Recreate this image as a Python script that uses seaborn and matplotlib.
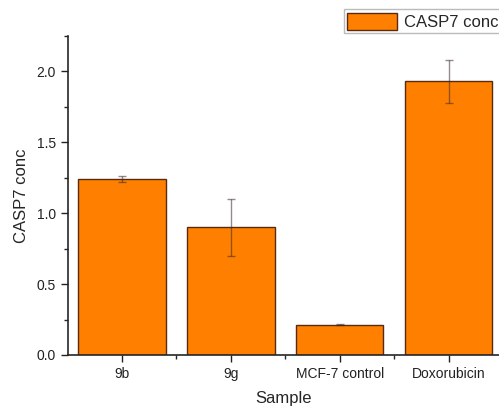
import matplotlib
matplotlib.use("Agg")
import matplotlib.pyplot as plt
from matplotlib.patches import Patch
from matplotlib.ticker import MultipleLocator, FixedLocator
import seaborn as sns
import pandas as pd
import numpy as np

samples = ["9b", "9g", "MCF-7 control", "Doxorubicin"]
conc = [1.24, 0.90, 0.215, 1.93]
err = [0.02, 0.20, 0.005, 0.15]

sns.set_style("ticks")
plt.rcParams['font.family'] = ['Liberation Sans', 'DejaVu Sans']

df = pd.DataFrame({"Sample": samples, "CASP7 conc": conc})

fig = plt.figure(figsize=(4.99, 4.07), dpi=100)
ax = fig.add_axes([67.5/499, 1-355/407, 1-67.5/499, (355-36)/407])

sns.barplot(data=df, x="Sample", y="CASP7 conc", color="#FF8000",
            edgecolor="#5a2a10", linewidth=1.0, width=0.8, saturation=1, ax=ax)
ax.errorbar(np.arange(len(samples)), conc, yerr=err, fmt="none",
            ecolor="#3a2a2a", alpha=0.55, elinewidth=1.0, capsize=3, capthick=1.0)

ax.set_xlim(-0.5, 3.46)
ax.set_ylim(0, 2.25)
ax.yaxis.set_major_locator(MultipleLocator(0.5))
ax.yaxis.set_minor_locator(MultipleLocator(0.25))
ax.xaxis.set_minor_locator(FixedLocator([0.5, 1.5, 2.5]))
ax.tick_params(axis="both", which="major", direction="out", length=5, width=1, labelsize=10, colors="#222222")
ax.tick_params(axis="both", which="minor", direction="out", length=3, width=1)
for lab in ax.get_xticklabels() + ax.get_yticklabels():
    lab.set_color("#222222")
ax.yaxis.set_major_formatter(matplotlib.ticker.FormatStrFormatter("%.1f"))

ax.spines["top"].set_visible(False)
ax.spines["right"].set_visible(False)
ax.spines["left"].set_linewidth(1.2)
ax.spines["bottom"].set_linewidth(1.2)

ax.set_xlabel("Sample", fontsize=12, labelpad=7)
ax.set_ylabel("CASP7 conc", fontsize=12, labelpad=5)

handle = Patch(facecolor="#FF8000", edgecolor="#5a2a10", linewidth=1.0)
leg = fig.legend([handle], ["CASP7 conc"], loc="upper right",
                 bbox_to_anchor=(1.005, 0.977), fontsize=12, frameon=True,
                 fancybox=False, borderpad=0.2, handlelength=3.0, handleheight=1.2,
                 handletextpad=0.4, borderaxespad=0)
leg.get_frame().set_edgecolor("#aaaaaa")
leg.get_frame().set_linewidth(1.0)

fig.savefig("out.png", dpi=100)
